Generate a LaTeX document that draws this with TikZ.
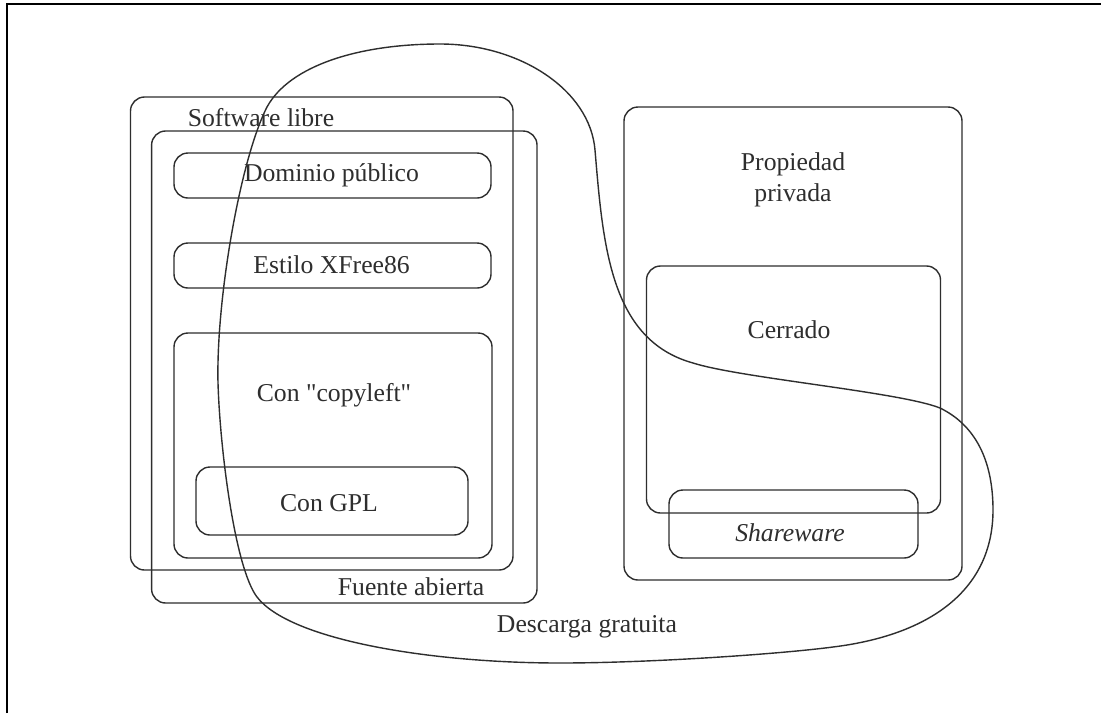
\documentclass[tikz,border=0pt]{standalone}
\usepackage{fontspec}
\setmainfont{Liberation Serif}[Ligatures=TeXOff]
\definecolor{ink}{HTML}{2E2E2E}
\begin{document}
\begin{tikzpicture}[x=1pt,y=-1pt,
  box/.style={draw=ink, line width=1.4pt, rounded corners=14pt, inner sep=0pt},
  lbl/.style={text=ink, font=\fontsize{25.7}{31}\selectfont, inner sep=0pt, align=center},
  frame/.style={draw=black, line width=2.4pt},
  blob/.style={draw=ink, line width=1.4pt}]
\useasboundingbox (0,0) rectangle (1101,713);
\fill[white] (0,0) rectangle (1101,713);
\draw[frame] (7,713) -- (7,4) -- (1101,4);

% free software side
\node[box, minimum width=382.5pt, minimum height=473pt] (sl) at (321.75,333.5) {};
\node[box, minimum width=385.4pt, minimum height=472pt] (fa) at (344.3,367) {};
\node[box, minimum width=317pt, minimum height=45pt] (dp) at (332.5,175.5) {};
\node[box, minimum width=317pt, minimum height=45pt] (ex) at (332.5,265.5) {};
\node[box, minimum width=318pt, minimum height=225pt] (cl) at (333,445.5) {};
\node[box, minimum width=272pt, minimum height=68pt] (gpl) at (332,501) {};

% proprietary side
\node[box, minimum width=338pt, minimum height=473pt] (pp) at (793,343.5) {};
\node[box, minimum width=294pt, minimum height=247pt] (ce) at (793.5,389.5) {};
\node[box, minimum width=249pt, minimum height=68pt] (sw) at (793.5,524) {};

% labels
\node[lbl] (tsl) at (261,118) {Software libre};
\node[lbl] (tfa) at (411,587) {Fuente abierta};
\node[lbl] (tdp) at (331.5,175) {Dominio público};
\node[lbl] (tex) at (331.6,265) {Estilo XFree86};
\node[lbl] (tcl) at (334,395) {Con "copyleft"};
\node[lbl] (tgpl) at (329,503) {Con GPL};
\node[lbl] (tpp) at (793,179.5) {Propiedad\\privada};
\node[lbl] (tce) at (789,330) {Cerrado};
\node[lbl, font=\fontsize{25.7}{31}\selectfont\itshape] (tsw) at (790,533) {Shareware};
\node[lbl] (tdg) at (587,627) {Descarga gratuita};

% free download region
\draw[blob] (440,44) .. controls (520,44) and (590,90) .. (595,150)
  .. controls (603,245) and (610,340) .. (693,363)
  .. controls (740,378) and (900,392) .. (940,408)
  .. controls (975,425) and (993,460) .. (993,510)
  .. controls (993,590) and (930,635) .. (833,647)
  .. controls (780,654) and (650,663) .. (560,663)
  .. controls (430,663) and (290,640) .. (257,597)
  .. controls (235,568) and (220,450) .. (218,383)
  .. controls (216,300) and (240,160) .. (267,107)
  .. controls (290,65) and (360,44) .. cycle;
\end{tikzpicture}
\end{document}
